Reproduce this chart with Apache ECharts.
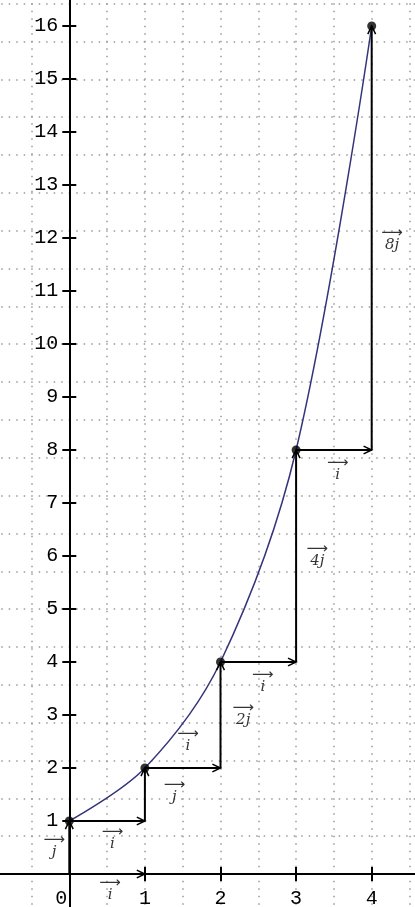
<!DOCTYPE html>
<html><head><meta charset="utf-8">
<script src="https://cdn.jsdelivr.net/npm/echarts@6/dist/echarts.min.js"></script>
<style>html,body{margin:0;padding:0;background:#fff}#c{width:415px;height:907px}</style>
</head><body><div id="c"></div>
<script>
// ---- data ----
const xTickValues = [0, 1, 2, 3, 4];
const yTickValues = [1, 2, 3, 4, 5, 6, 7, 8, 9, 10, 11, 12, 13, 14, 15, 16];
const curveX = [0, 1, 2, 3, 4];
const curveY = [1, 2, 4, 8, 16];
const arrowX0 = [0, 0, 0, 1, 1, 2, 2, 3, 3, 4];
const arrowY0 = [0, 0, 1, 1, 2, 2, 4, 4, 8, 8];
const arrowX1 = [1, 0, 1, 1, 2, 2, 3, 3, 4, 4];
const arrowY1 = [0, 1, 1, 2, 2, 4, 4, 8, 8, 16];
const vecText = ['i', 'j', 'i', 'j', 'i', '2j', 'i', '4j', 'i', '8j'];
const vecLabelX = [0.54, -0.2, 0.57, 1.39, 1.57, 2.30, 2.56, 3.28, 3.55, 4.27];
const vecLabelY = [-0.32, 0.49, 0.64, 1.53, 2.49, 2.98, 3.62, 5.98, 7.62, 11.96];
const gridStep = 0.714; // y-units of the square dotted grid (x grid step 0.5)

// ---- layout ----
const W = 415, H = 907;
const originPx = [69.3, 874], unitX = 75.6, unitY = 53;
const xMin = -1, xMax = 5;
const yMin = -gridStep, yMax = gridStep * 24;
const gridLeft = originPx[0] + xMin * unitX;
const gridRight = W - (originPx[0] + xMax * unitX);
const gridTop = originPx[1] - yMax * unitY;
const gridBottom = H - (originPx[1] - yMin * unitY);
const yAxisOffset = -(originPx[0] - gridLeft);
const xAxisOffset = -((H - gridBottom) - originPx[1]);
const font = 'Liberation Mono';

const chart = echarts.init(document.getElementById('c'));
const arrowData = arrowX0.map((v, i) => [v, arrowY0[i], arrowX1[i], arrowY1[i]]);
const labelData = vecText.map((t, i) => [vecLabelX[i], vecLabelY[i], t]);
const curveData = curveX.map((v, i) => [v, curveY[i]]);
const tickStyle = { color: '#000', width: 2 };

chart.setOption({
  animation: false,
  backgroundColor: '#fff',
  grid: { left: gridLeft, right: gridRight, top: gridTop, bottom: gridBottom, outerBoundsMode: 'none' },
  xAxis: [
    { type: 'value', min: xMin, max: xMax, position: 'bottom', offset: xAxisOffset,
      axisLine: { show: true, onZero: false, lineStyle: { color: '#000', width: 2 } },
      axisTick: { show: true, length: 7, customValues: xTickValues, lineStyle: tickStyle },
      axisLabel: { show: true, customValues: xTickValues, margin: 15, color: '#000', fontFamily: font, fontSize: 20,
        formatter: v => v === 0 ? '{z|0}' : String(v),
        rich: { z: { fontFamily: font, fontSize: 20, color: '#000', padding: [0, 16, 0, 0] } } },
      splitLine: { show: false } },
    { type: 'value', min: xMin, max: xMax, interval: 0.5, position: 'top',
      axisLine: { show: false, onZero: false }, axisTick: { show: false }, axisLabel: { show: false },
      splitLine: { show: true, lineStyle: { color: '#999', width: 1.5, type: [1.5, 6] } } },
    { type: 'value', min: xMin, max: xMax, position: 'bottom', offset: xAxisOffset,
      axisLine: { show: false, onZero: false },
      axisTick: { show: true, inside: true, length: 7, customValues: xTickValues, lineStyle: tickStyle },
      axisLabel: { show: false }, splitLine: { show: false } }
  ],
  yAxis: [
    { type: 'value', min: yMin, max: yMax, position: 'left', offset: yAxisOffset,
      axisLine: { show: true, onZero: false, lineStyle: { color: '#000', width: 2 } },
      axisTick: { show: true, length: 7, customValues: yTickValues, lineStyle: tickStyle },
      axisLabel: { show: true, customValues: yTickValues, margin: 11, color: '#000', fontFamily: font, fontSize: 20 },
      splitLine: { show: false } },
    { type: 'value', min: yMin, max: yMax, interval: gridStep, position: 'right',
      axisLine: { show: false, onZero: false }, axisTick: { show: false }, axisLabel: { show: false },
      splitLine: { show: true, lineStyle: { color: '#999', width: 1.5, type: [1.5, 6] } } },
    { type: 'value', min: yMin, max: yMax, position: 'left', offset: yAxisOffset,
      axisLine: { show: false, onZero: false },
      axisTick: { show: true, inside: true, length: 7, customValues: yTickValues, lineStyle: tickStyle },
      axisLabel: { show: false }, splitLine: { show: false } }
  ],
  series: [
    { type: 'line', xAxisIndex: 0, yAxisIndex: 0, data: curveData, smooth: 0.35, showSymbol: false,
      lineStyle: { color: '#34347a', width: 1.5 }, z: 3, silent: true },
    { type: 'custom', xAxisIndex: 0, yAxisIndex: 0, data: arrowData, z: 4,
      encode: { x: [0, 2], y: [1, 3] },
      renderItem: function (params, api) {
        const p0 = api.coord([api.value(0), api.value(1)]);
        const p1 = api.coord([api.value(2), api.value(3)]);
        const ang = Math.atan2(p1[1] - p0[1], p1[0] - p0[0]);
        const L = 9, a = 0.45;
        const h1 = [p1[0] - L * Math.cos(ang - a), p1[1] - L * Math.sin(ang - a)];
        const h2 = [p1[0] - L * Math.cos(ang + a), p1[1] - L * Math.sin(ang + a)];
        return { type: 'group', children: [
          { type: 'line', shape: { x1: p0[0], y1: p0[1], x2: p1[0], y2: p1[1] }, style: { stroke: '#000', lineWidth: 2 } },
          { type: 'polyline', shape: { points: [h1, p1, h2] }, style: { stroke: '#000', fill: null, lineWidth: 1.5 } }
        ] };
      } },
    { type: 'scatter', xAxisIndex: 0, yAxisIndex: 0, data: curveData, symbol: 'circle', symbolSize: 9,
      itemStyle: { color: '#000' }, z: 5 },
    { type: 'scatter', xAxisIndex: 0, yAxisIndex: 0, data: labelData, symbolSize: 0, z: 6,
      label: { show: true, position: 'inside',
        formatter: p => '{a|⟶}\n{b|' + p.data[2] + '}',
        rich: {
          a: { fontFamily: 'DejaVu Sans', fontSize: 15, lineHeight: 9, color: '#000', align: 'center' },
          b: { fontFamily: 'DejaVu Serif', fontStyle: 'italic', fontSize: 15, lineHeight: 15, color: '#000', align: 'center' }
        } } }
  ]
});
</script></body></html>
